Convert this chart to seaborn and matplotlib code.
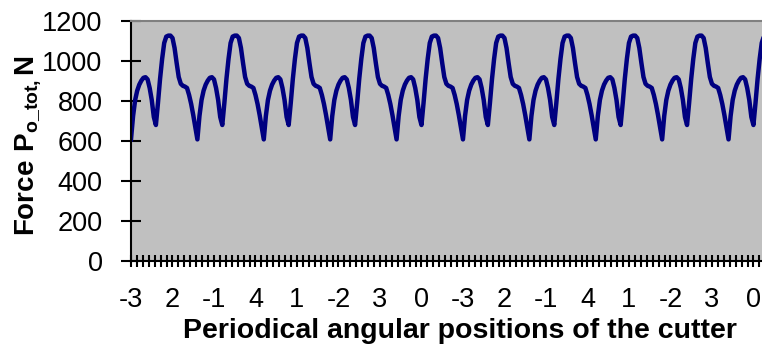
import numpy as np
import matplotlib
matplotlib.use("Agg")
import matplotlib.pyplot as plt
import seaborn as sns

# One cycle of the total force (N), 32 samples per cycle.
# The signal repeats identically along the whole axis.
force_cycle = [608, 725, 805, 852, 882, 902, 916, 919, 908, 865, 805, 720,
               680, 790, 910, 1010, 1090, 1122, 1127, 1127, 1115, 1065, 990, 920,
               886, 876, 872, 865, 830, 785, 730, 670]
n_cycles = 10
sample_step = 0.35      # categories between two samples (11.2 categories per cycle)

# category axis: one tick per category, a label every 7th
x_tick_labels = ["-3", "2", "-1", "4", "1", "-2", "3", "0",
                 "-3", "2", "-1", "4", "1", "-2", "3", "0"]
label_every = 7
n_categories = 112
y_ticks = [0, 200, 400, 600, 800, 1000, 1200]

force = np.append(np.tile(force_cycle, n_cycles), force_cycle[0])
position = np.arange(len(force)) * sample_step

plt.rcParams["font.family"] = ["Liberation Sans", "DejaVu Sans"]
plt.rcParams["mathtext.fontset"] = "custom"
plt.rcParams["mathtext.rm"] = "Liberation Sans"
plt.rcParams["mathtext.bf"] = "Liberation Sans:bold"

fig = plt.figure(figsize=(7.62, 3.49), dpi=100)
# plot area runs past the right edge of the picture (it is cropped there)
ax = fig.add_axes([131 / 762, 88 / 349, 658 / 762, 240 / 349])
ax.set_facecolor("#C0C0C0")

sns.lineplot(x=position, y=force, ax=ax, color="#000080", linewidth=3.2)

ax.set_xlim(0, 111)
ax.set_ylim(0, 1200)
ax.set_yticks(y_ticks)
ax.set_yticklabels([str(v) for v in y_ticks])

ticks = list(range(n_categories))
labels = []
for t in ticks:
    k = t // label_every
    if t % label_every == 0 and k < len(x_tick_labels):
        labels.append(x_tick_labels[k])
    else:
        labels.append("")
ax.set_xticks(ticks)
ax.set_xticklabels(labels)

ax.tick_params(axis="x", direction="inout", length=9, width=1.5, pad=14, labelsize=19.5, colors="black")
ax.tick_params(axis="y", direction="inout", length=15, width=1.5, pad=13, labelsize=19.5, colors="black")

for side in ["left", "bottom"]:
    ax.spines[side].set_color("black")
    ax.spines[side].set_linewidth(1.5)
ax.spines["top"].set_color("#808080")
ax.spines["top"].set_linewidth(1.5)
ax.spines["right"].set_visible(False)

ax.set_xlabel("Periodical angular positions of the cutter", fontsize=20.5,
              fontweight="bold", labelpad=4)
fig.text(28 / 762, 1 - 146 / 349, r"$\mathbf{Force\ P_{o\_tot,}N}$", rotation=90,
         ha="center", va="center", fontsize=20)

fig.savefig("out.png", dpi=100)
